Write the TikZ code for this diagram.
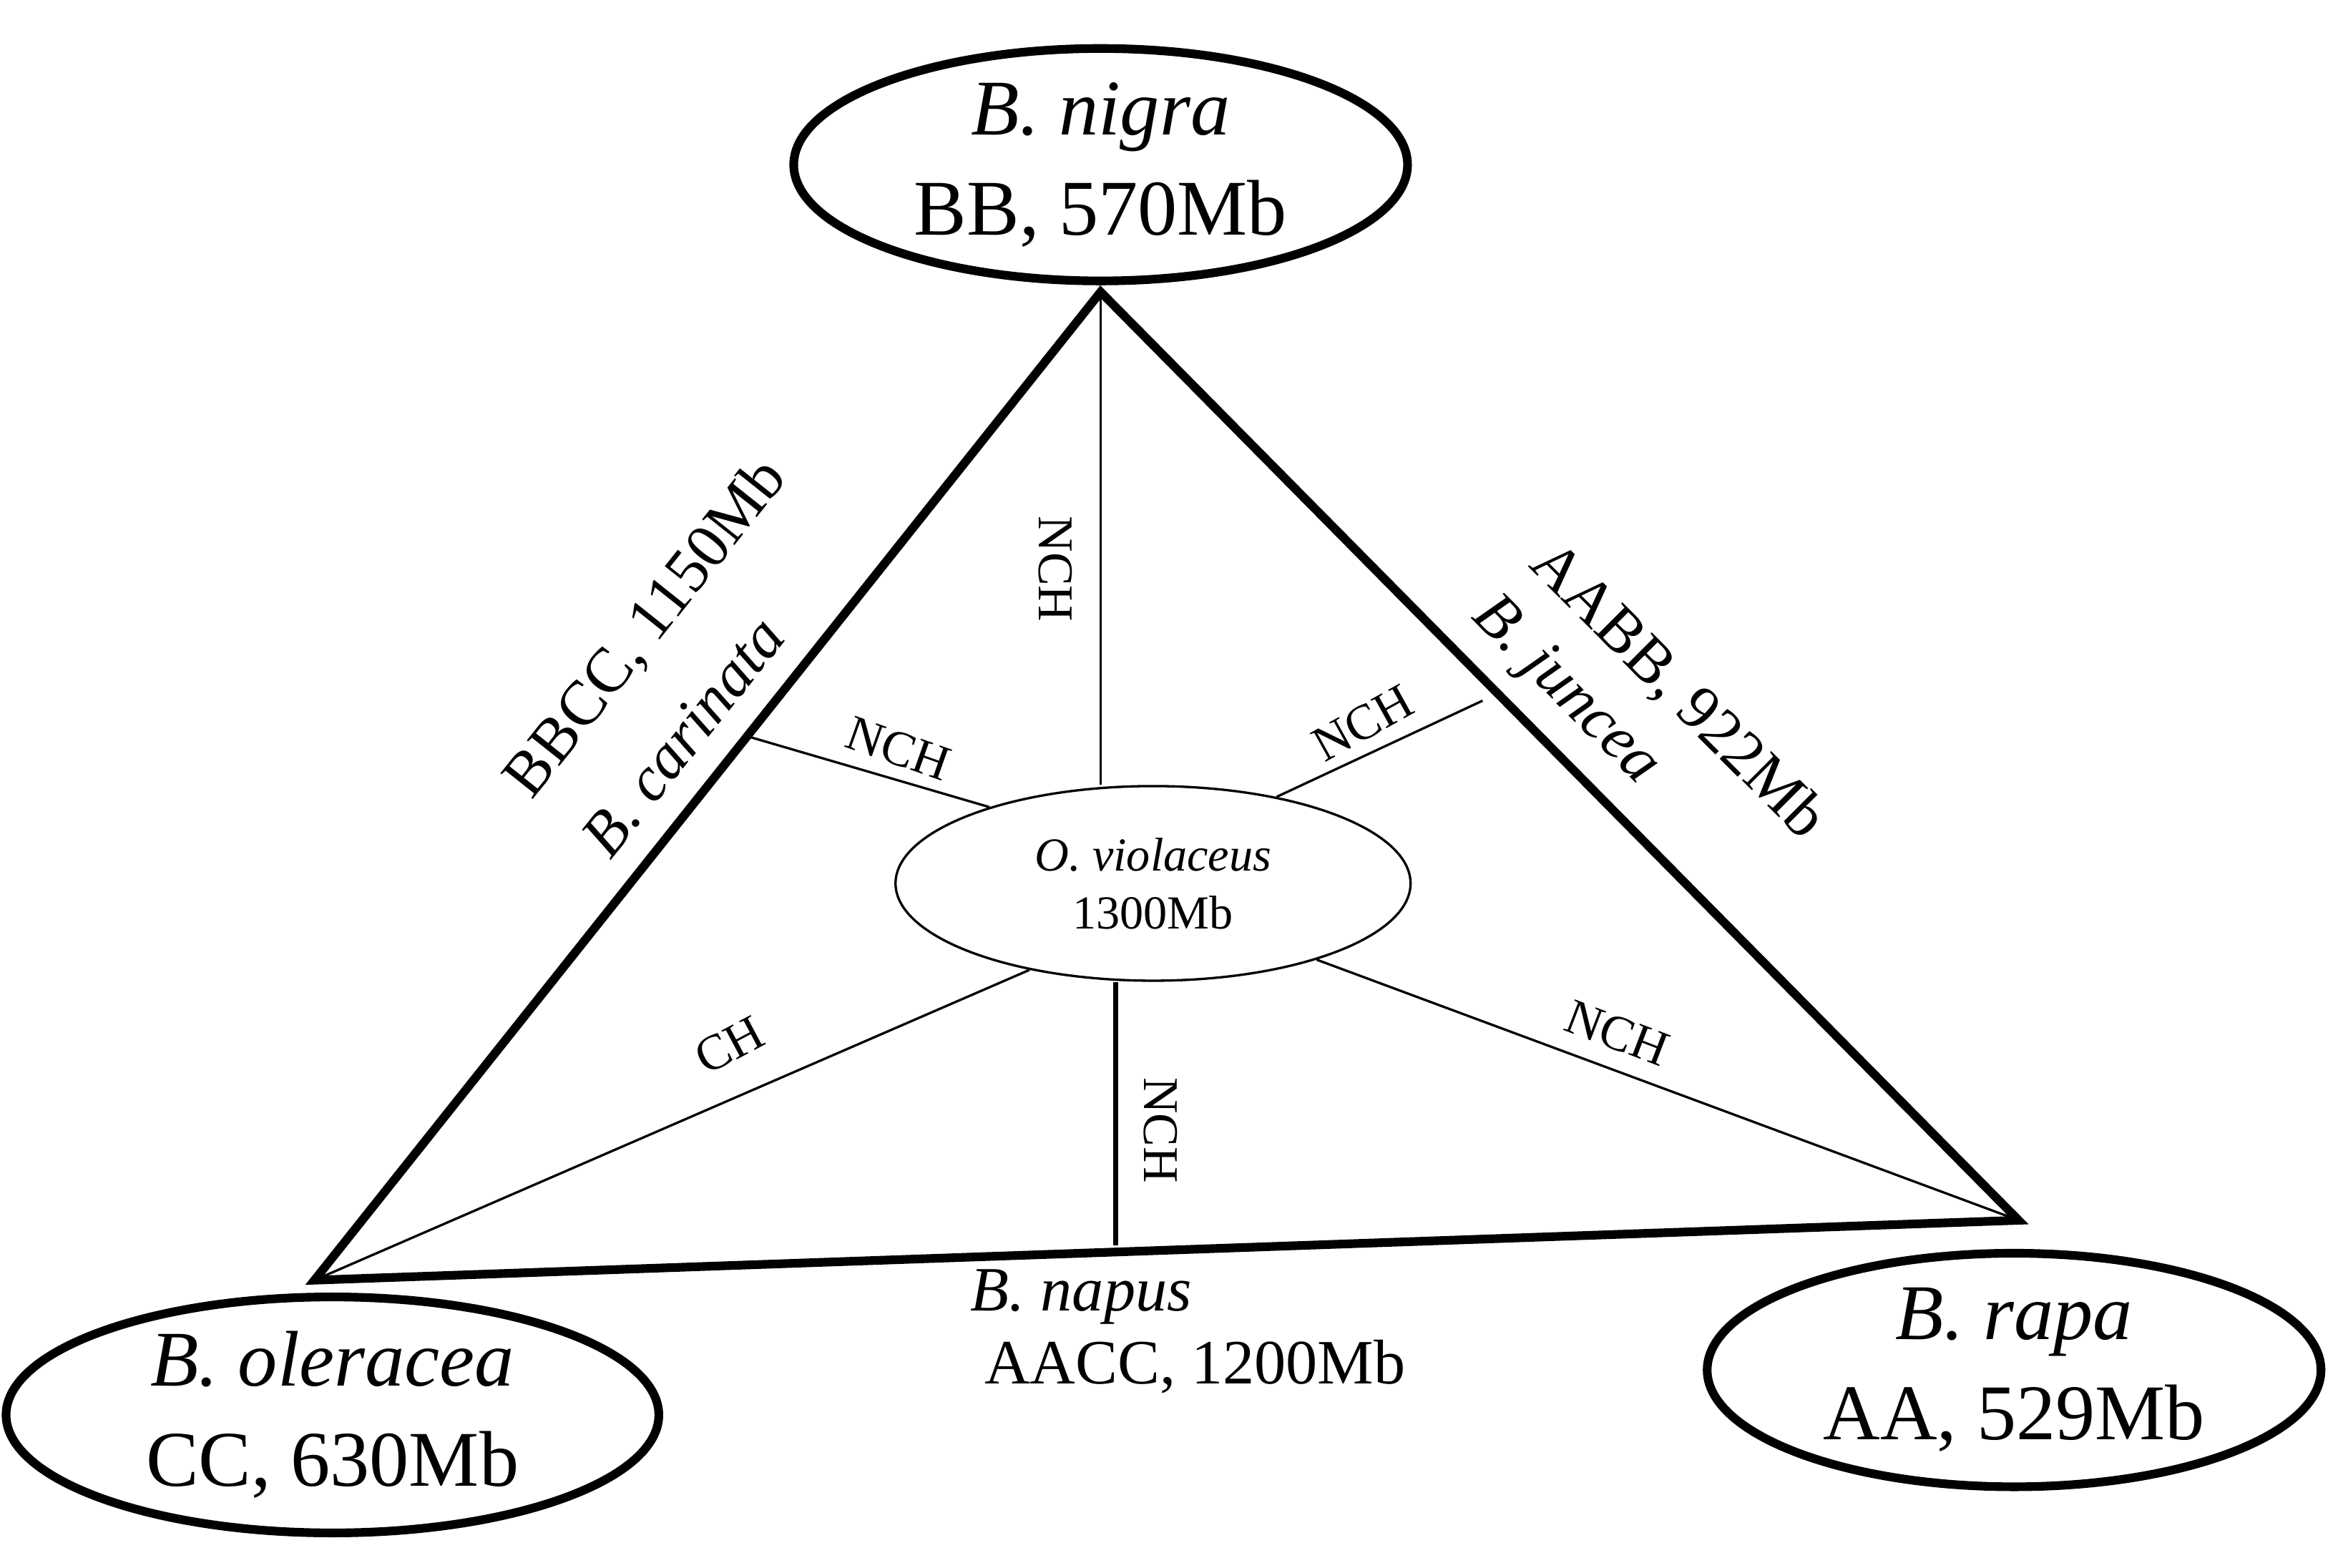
\documentclass[tikz,border=0pt]{standalone}
\usepackage{fontspec}
\setmainfont{Liberation Serif}
\usetikzlibrary{shapes.geometric}
\begin{document}
\begin{tikzpicture}[x=0.02cm,y=-0.02cm,
 big/.style={draw,ellipse,line width=3.3pt,inner sep=0pt,font=\fontsize{30}{38}\selectfont,align=center},
 thick edge/.style={line width=3.3pt,line cap=round},
 thin edge/.style={line width=0.9pt},
 lab/.style={font=\fontsize{19}{22}\selectfont,inner sep=1pt},
 elab/.style={font=\fontsize{24}{28}\selectfont,inner sep=1pt}]
\useasboundingbox (0,0) rectangle (1568,1047);
\node[big,minimum width=8.2cm,minimum height=2.8cm] (nig) at (735,110) {\textit{B. nigra}\\BB, 570Mb};
\node[big,minimum width=8.72cm,minimum height=3.12cm] (ole) at (222,945) {\textit{B. oleracea}\\CC, 630Mb};
\node[big,minimum width=8.2cm,minimum height=3.12cm] (rap) at (1345,915) {\textit{B. rapa}\\AA, 529Mb};
\node[draw,ellipse,line width=0.9pt,minimum width=6.88cm,minimum height=2.6cm,inner sep=0pt,align=center,font=\fontsize{18}{22}\selectfont] (ov) at (770,590) {\textit{O. violaceus}\\1300Mb};
\coordinate (T) at (735,195);
\coordinate (L) at (210,855);
\coordinate (R) at (1348,815);
\coordinate (pl) at (500,492);
\coordinate (pr) at (990,468);
\coordinate (pb) at (745,832);
\draw[thick edge] (T) -- (L) -- (R) -- cycle;
\draw[thin edge] (T) -- (ov.north -| T);
\draw[thin edge] (pl) -- (ov.155);
\draw[thin edge] (pr) -- (ov.35);
\draw[thin edge] (ov.215) -- (L);
\draw[line width=1.8pt] (ov.south -| pb) -- (pb);
\draw[thin edge] (ov.335) -- (R);
\node[lab,rotate=-90] (n1) at (705,380) {NCH};
\node[lab,rotate=-19.5] (n2) at (600,500) {NCH};
\node[lab,rotate=29] (n3) at (910,483) {NCH};
\node[lab,rotate=28] (n4) at (487,698) {CH};
\node[lab,rotate=-21] (n5) at (1080,690) {NCH};
\node[lab,rotate=-90] (n6) at (775,755) {NCH};
\node[elab,rotate=51.5] (e1) at (432,420) {BBCC, 1150Mb};
\node[elab,rotate=51.5] (e2) at (456,492) {\textit{B. carinata}};
\node[elab,rotate=-45] (e3) at (1120,462) {AABB, 922Mb};
\node[elab,rotate=-45] (e4) at (1045,462) {\textit{B. juncea}};
\node[elab] (e5) at (722,866) {\textit{B. napus}};
\node[elab] (e6) at (798,913) {AACC, 1200Mb};
\end{tikzpicture}
\end{document}
